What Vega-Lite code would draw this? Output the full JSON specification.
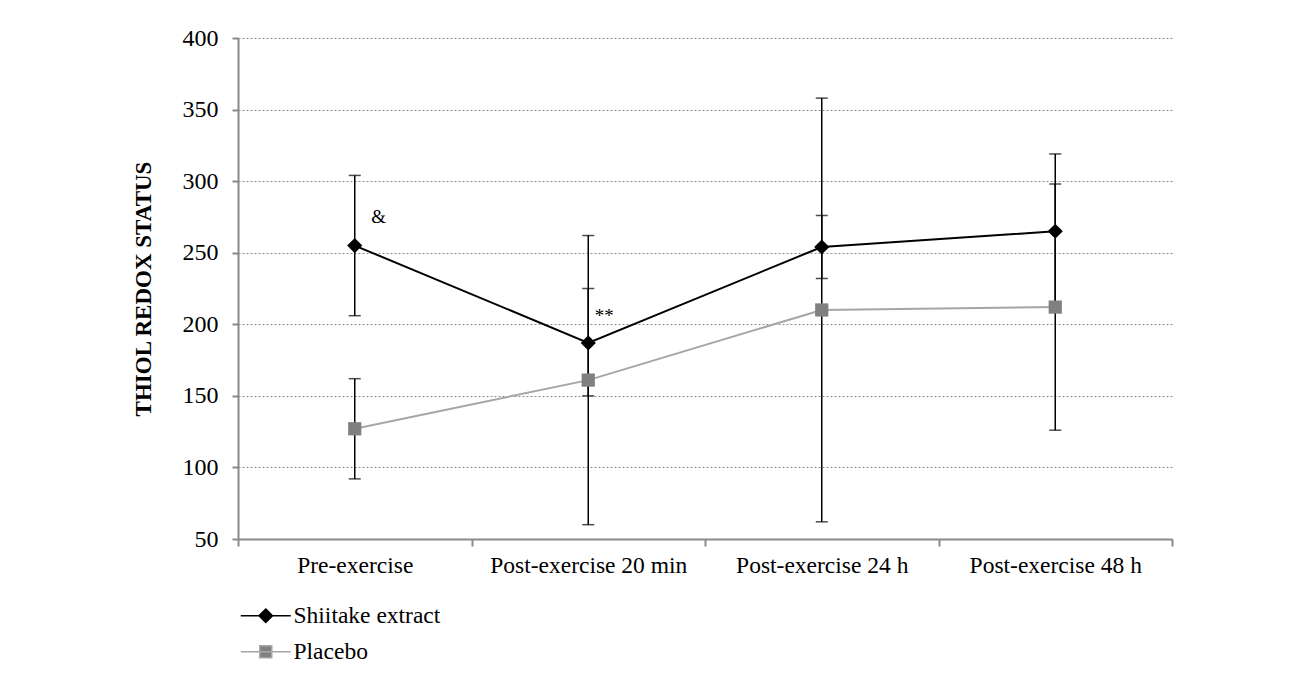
{
  "$schema": "https://vega.github.io/schema/vega-lite/v6.json",
  "width": 934,
  "height": 501,
  "autosize": {"type": "none"},
  "padding": {"left": 238, "top": 38, "right": 118, "bottom": 134},
  "background": "white",
  "config": {"view": {"stroke": null}, "font": "Liberation Serif"},
  "datasets": {
    "series": [
      {"time": "Pre-exercise", "group": "Shiitake extract", "mean": 255, "lo": 206, "hi": 304},
      {"time": "Post-exercise 20 min", "group": "Shiitake extract", "mean": 187, "lo": 150, "hi": 225},
      {"time": "Post-exercise 24 h", "group": "Shiitake extract", "mean": 254, "lo": 232, "hi": 276},
      {"time": "Post-exercise 48 h", "group": "Shiitake extract", "mean": 265, "lo": 211, "hi": 319},
      {"time": "Pre-exercise", "group": "Placebo", "mean": 127, "lo": 92, "hi": 162},
      {"time": "Post-exercise 20 min", "group": "Placebo", "mean": 161, "lo": 60, "hi": 262},
      {"time": "Post-exercise 24 h", "group": "Placebo", "mean": 210, "lo": 62, "hi": 358},
      {"time": "Post-exercise 48 h", "group": "Placebo", "mean": 212, "lo": 126, "hi": 298}
    ],
    "amp": [{"time": "Pre-exercise", "y": 271, "label": "&"}],
    "stars": [{"time": "Post-exercise 20 min", "y": 201.5, "label": "**"}]
  },
  "encoding": {
    "x": {
      "field": "time",
      "type": "nominal",
      "sort": ["Pre-exercise", "Post-exercise 20 min", "Post-exercise 24 h", "Post-exercise 48 h"],
      "scale": {"type": "band", "paddingInner": 0, "paddingOuter": 0},
      "axis": {
        "title": null,
        "labelAngle": 0,
        "labelFont": "Liberation Serif",
        "labelFontSize": 23.5,
        "labelColor": "black",
        "labelLimit": 400,
        "labelPadding": 7,
        "tickBand": "extent",
        "tickSize": 7,
        "tickWidth": 2,
        "tickColor": "#8a8a8a",
        "domainColor": "#8a8a8a",
        "domainWidth": 2,
        "grid": false
      }
    }
  },
  "layer": [
    {
      "data": {"name": "series"},
      "mark": {"type": "rule", "color": "black", "strokeWidth": 1.5},
      "encoding": {
        "y": {
          "field": "lo",
          "type": "quantitative",
          "title": "THIOL REDOX STATUS",
          "scale": {"domain": [50, 400], "nice": false, "zero": false},
          "axis": {
            "values": [50, 100, 150, 200, 250, 300, 350, 400],
            "titleFont": "Liberation Serif",
            "titleFontSize": 23,
            "titleFontWeight": "bold",
            "titleColor": "black",
            "titlePadding": 27,
            "labelFont": "Liberation Serif",
            "labelFontSize": 24,
            "labelColor": "black",
            "labelPadding": 14,
            "tickSize": 6,
            "tickWidth": 2,
            "tickColor": "#8a8a8a",
            "domainColor": "#8a8a8a",
            "domainWidth": 2,
            "grid": true,
            "gridColor": "#8c8c8c",
            "gridDash": [2, 2],
            "gridWidth": 1
          }
        },
        "y2": {"field": "hi"}
      }
    },
    {
      "data": {"name": "series"},
      "mark": {"type": "tick", "color": "black", "size": 12, "thickness": 1.5, "orient": "horizontal"},
      "encoding": {"y": {"field": "lo", "type": "quantitative", "title": "THIOL REDOX STATUS"}}
    },
    {
      "data": {"name": "series"},
      "mark": {"type": "tick", "color": "black", "size": 12, "thickness": 1.5, "orient": "horizontal"},
      "encoding": {"y": {"field": "hi", "type": "quantitative", "title": "THIOL REDOX STATUS"}}
    },
    {
      "data": {"name": "series"},
      "mark": {"type": "line", "strokeWidth": 2},
      "encoding": {
        "y": {"field": "mean", "type": "quantitative", "title": "THIOL REDOX STATUS"},
        "color": {
          "field": "group",
          "type": "nominal",
          "scale": {"domain": ["Shiitake extract", "Placebo"], "range": ["#000000", "#a6a6a6"]},
          "legend": {
            "orient": "none",
            "legendX": 16,
            "legendY": 566,
            "title": null,
            "direction": "vertical",
            "padding": 0,
            "symbolSize": 100,
            "symbolStrokeWidth": 1.5,
            "labelFont": "Liberation Serif",
            "labelFontSize": 23.5,
            "labelColor": "black",
            "labelOffset": 16,
            "rowPadding": 11,
            "encode": {
              "symbols": {
                "update": {
                  "shape": {"signal": "datum.value === 'Placebo' ? 'M-5,0L5,0M-1.2,-1.2L1.2,-1.2L1.2,1.2L-1.2,1.2Z' : 'M-5,0L5,0M0,-1.35L1.35,0L0,1.35L-1.35,0Z'"},
                  "fill": {"signal": "datum.value === 'Placebo' ? '#808080' : '#000000'"},
                  "fillOpacity": {"value": 1},
                  "opacity": {"value": 1}
                }
              }
            }
          }
        }
      }
    },
    {
      "data": {"name": "series"},
      "transform": [{"filter": "datum.group === 'Shiitake extract'"}],
      "mark": {"type": "point", "shape": "diamond", "filled": true, "fill": "#000000", "opacity": 1, "size": 230},
      "encoding": {
        "y": {"field": "mean", "type": "quantitative", "title": "THIOL REDOX STATUS"}
      }
    },
    {
      "data": {"name": "series"},
      "transform": [{"filter": "datum.group === 'Placebo'"}],
      "mark": {"type": "point", "shape": "square", "filled": true, "fill": "#808080", "opacity": 1, "size": 175},
      "encoding": {
        "y": {"field": "mean", "type": "quantitative", "title": "THIOL REDOX STATUS"}
      }
    },
    {
      "data": {"name": "amp"},
      "mark": {"type": "text", "font": "Liberation Serif", "fontSize": 19, "color": "black", "align": "center", "baseline": "alphabetic", "dx": 24},
      "encoding": {
        "y": {"field": "y", "type": "quantitative", "title": "THIOL REDOX STATUS"},
        "text": {"field": "label"}
      }
    },
    {
      "data": {"name": "stars"},
      "mark": {"type": "text", "font": "Liberation Serif", "fontSize": 19, "color": "black", "align": "center", "baseline": "alphabetic", "dx": 16},
      "encoding": {
        "y": {"field": "y", "type": "quantitative", "title": "THIOL REDOX STATUS"},
        "text": {"field": "label"}
      }
    }
  ]
}
